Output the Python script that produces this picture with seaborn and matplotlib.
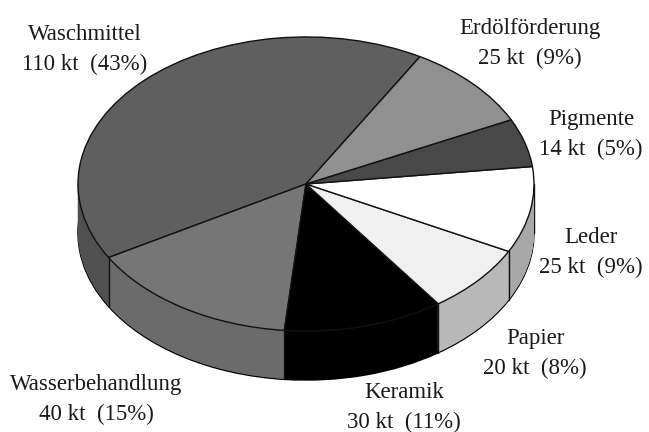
import matplotlib
matplotlib.use("Agg")
import matplotlib.pyplot as plt
import numpy as np
import seaborn as sns

names = ["Waschmittel", "Wasserbehandlung", "Keramik", "Papier", "Leder", "Pigmente", "Erdölförderung"]
kt = [110, 40, 30, 20, 25, 14, 25]
percent = [43, 15, 11, 8, 9, 5, 9]

top_colors = ["#5f5f5f", "#767676", "#000000", "#f0f0f0", "#ffffff", "#484848", "#909090"]
side_colors = ["#505050", "#6b6b6b", "#000000", "#b8b8b8", "#a8a8a8", "#484848", "#909090"]

# label centres in pixels of the 649x432 picture
label_x = [85, 96, 404, 535, 591, 591, 530]
label_y = [50, 400, 408, 354, 253, 135, 44]

sns.set_theme(style="white")
plt.rcParams["font.family"] = ["Liberation Serif", "DejaVu Serif"]

W, H = 649, 432
squash = 0.645   # the pie is seen at an angle
radius = 228
cx = 306
cy = (H - 184) / squash
depth = 49 / squash

fig = plt.figure(figsize=(W / 100, H / 100), dpi=100)
ax = fig.add_axes([0, 0, 1, 1])

# the wall: same pie repeated, going up from the bottom
for d in np.arange(depth, 0, -1.0):
    edge = "black" if d == depth else "none"
    ax.pie(kt, colors=side_colors, startangle=60, radius=radius, center=(cx, cy - d),
           wedgeprops=dict(edgecolor=edge, linewidth=1.0), frame=True)

# vertical seams of the wall
wedges, _ = ax.pie(kt, colors=top_colors, startangle=60, radius=radius, center=(cx, cy),
                   wedgeprops=dict(edgecolor="#111111", linewidth=1.0), frame=True)
for w in wedges:
    a = np.deg2rad(w.theta1)
    if np.sin(a) < 0:
        x = cx + radius * np.cos(a)
        y = cy + radius * np.sin(a)
        ax.plot([x, x], [y, y - depth], color="#111111", lw=1.0, zorder=5)
for x in [cx - radius, cx + radius]:
    ax.plot([x, x], [cy, cy - depth], color="#111111", lw=1.0, zorder=0.5)

ax.set_aspect("auto")
ax.set_xlim(0, W)
ax.set_ylim(0, H / squash)
ax.axis("off")

for i in range(len(names)):
    fig.text(label_x[i] / W, 1 - label_y[i] / H,
             f"{names[i]}\n{kt[i]} kt  ({percent[i]}%)",
             ha="center", va="center", fontsize=16.5, color="#1a1a1a", linespacing=1.55)

fig.savefig("out.png", dpi=100, facecolor="white")
